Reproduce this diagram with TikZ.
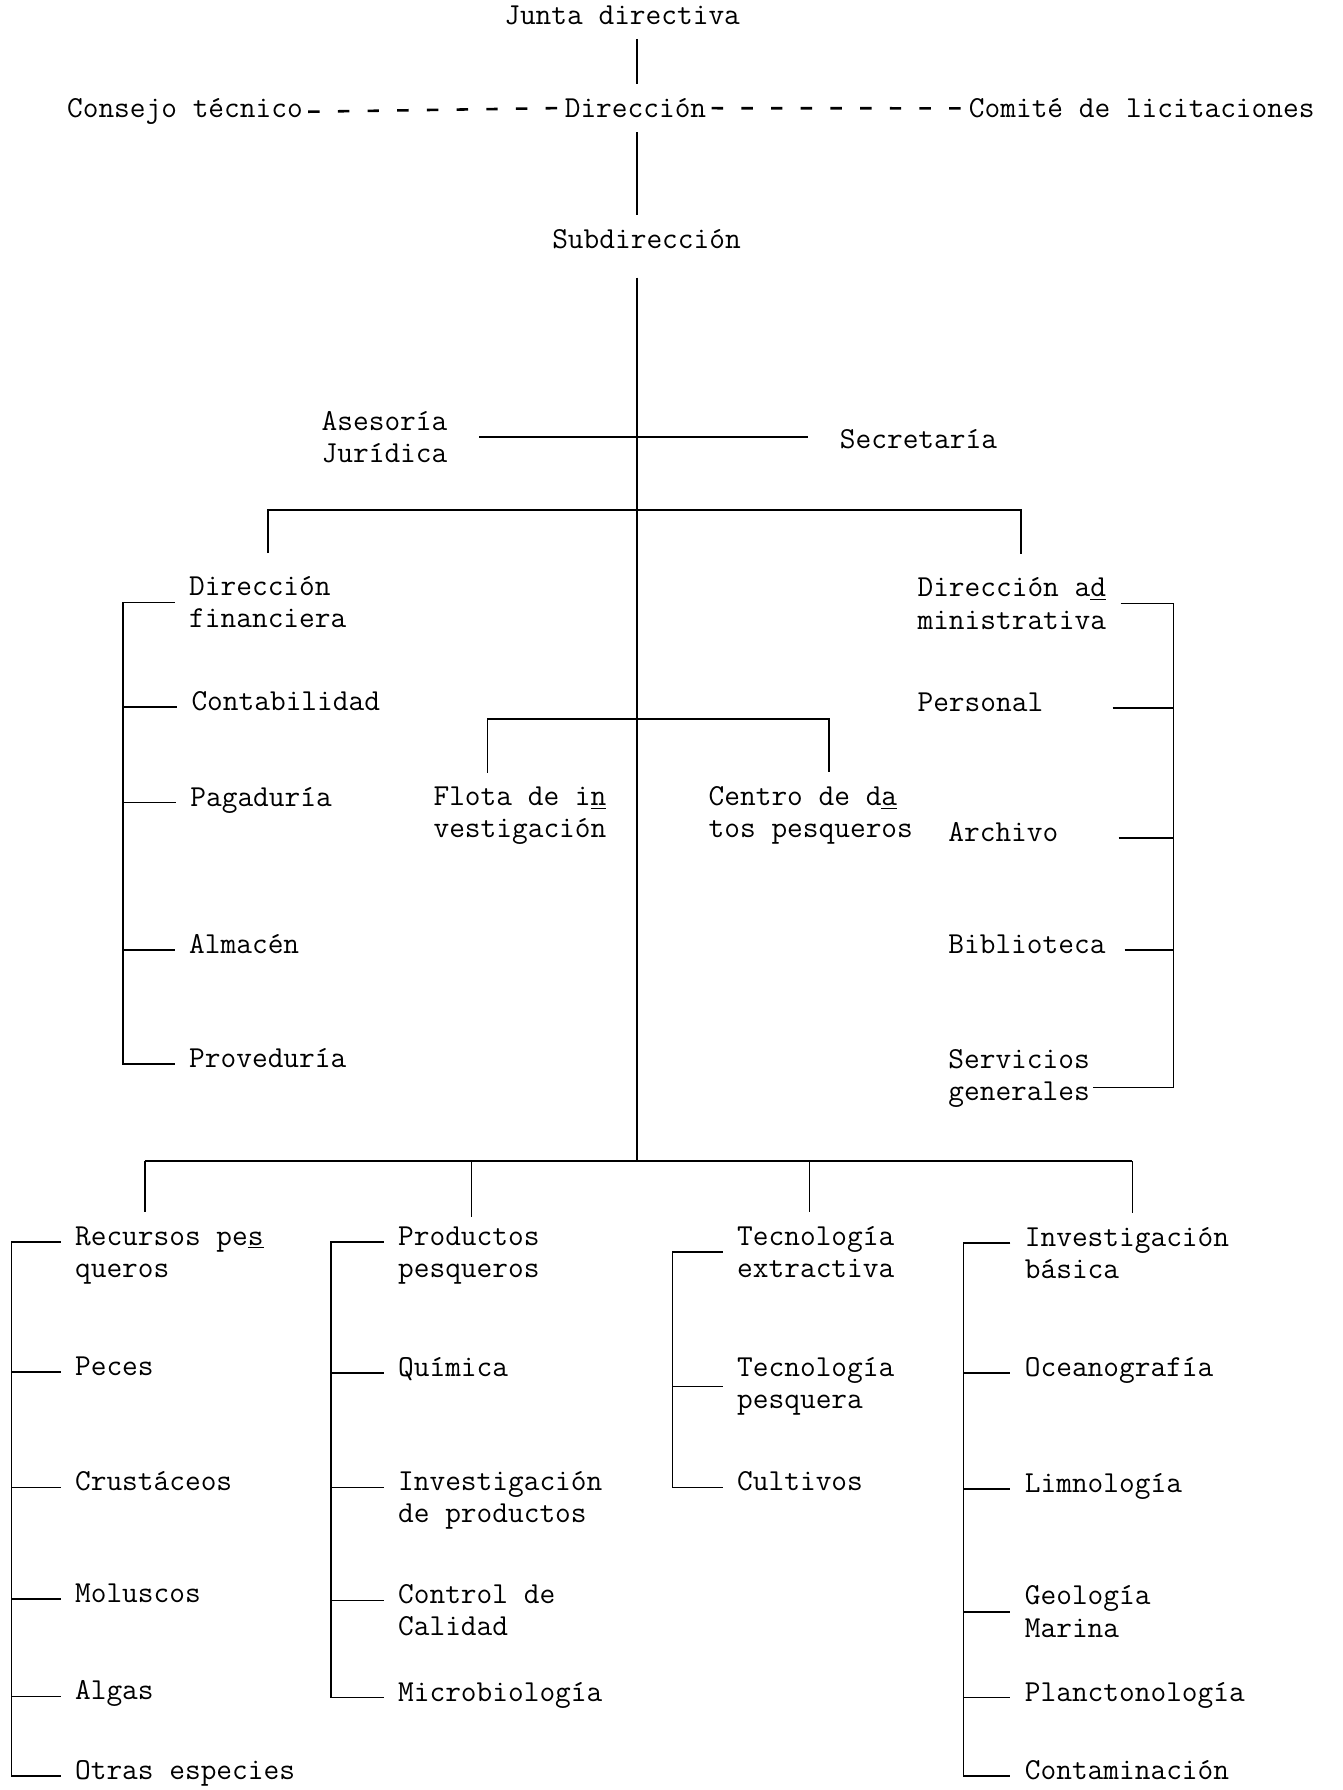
\documentclass[tikz,border=0pt]{standalone}
\usetikzlibrary{positioning}

\begin{document}
\begin{tikzpicture}[x = 0.025cm, y = -0.025cm, line width = 1.1pt,
    lbl/.style = {anchor = mid west, align = left, inner xsep = 0.3cm, inner ysep = 0.3cm,
                  font = \fontsize{19}{20}\selectfont\ttfamily},
    dashline/.style = {line width = 1.6pt, dash pattern = on 0.25cm off 0.4cm,
                       shorten < = -0.2cm, shorten > = -0.2cm}]

    \useasboundingbox (0, 0) rectangle (1176, 1568);

    % top of the chart
    \node[lbl] (jd) at (429, 18) {Junta directiva};
    \node[lbl] (cons) at (46, 100) {Consejo técnico};
    \node[lbl] (dir) at (482, 100) {Dirección};
    \node[lbl] (com) at (836, 100) {Comité de licitaciones};
    \node[lbl] (sub) at (471, 215) {Subdirección};

    \coordinate (bb) at (558, 1017);

    \draw (jd.south -| bb) -- (dir.north -| bb);
    \draw (dir.south -| bb) -- (sub.north -| bb);
    \draw[dashline] (cons.east) -- (dir.west);
    \draw[dashline] (dir.east) -- (com.west);
    \draw[shorten < = 0.3cm] (sub.south -| bb) -- (bb);


    % staff units
    \node[lbl] (ase) at (269, 402) {Asesoría\\Jurídica};
    \node[lbl] (sec) at (723, 390) {Secretaría};
    \draw[shorten < = 0.375cm, shorten > = 0.375cm] (ase.east) -- (ase.east -| sec.west);


    % the two directions
    \node[lbl] (fin) at (153, 547) {Dirección\\financiera};
    \node[lbl] (adm) at (791, 548) {Dirección a\underline{d}\\ministrativa};

    \coordinate (ub) at (558, 447);
    \draw[shorten < = 0.2cm, shorten > = 0.2cm] (fin.north) |- (ub) -| ([xshift = 0.2cm]adm.north);

    % left bracket
    \node[lbl] (cont) at (155, 619) {Contabilidad};
    \node[lbl] (pag) at (154, 703) {Pagaduría};
    \node[lbl] (alm) at (153, 832) {Almacén};
    \node[lbl] (prov) at (153, 932) {Proveduría};

    \coordinate (lb) at (108, 0);
    \draw (fin.west) -- (fin.west -| lb) -- (prov.mid west -| lb) -- (prov.mid west);
    \foreach \n in {cont, pag, alm}
        \draw (\n.mid west -| lb) -- (\n.mid west);

    % right bracket
    \node[lbl] (pers) at (791, 620) {Personal};
    \node[lbl] (arch) at (818, 734) {Archivo};
    \node[lbl] (bib) at (818, 832) {Biblioteca};
    \node[lbl] (serv) at (818, 961) {Servicios\\generales};

    \coordinate (rb) at (1028, 0);
    \draw (adm.east) -- (adm.east -| rb)
        -- ([yshift = -0.2cm]serv.east -| rb) -- ([xshift = -0.25cm, yshift = -0.2cm]serv.east);
    \foreach \n/\s in {pers/1.2cm, arch/1.0cm, bib/0.1cm}
        \draw ([xshift = \s]\n.mid east) -- (\n.mid east -| rb);


    % middle units
    \node[lbl] (flota) at (367, 731) {Flota de i\underline{n}\\vestigación};
    \node[lbl] (centro) at (608, 731) {Centro de d\underline{a}\\tos pesqueros};

    \coordinate (m1) at (427, 630);
    \coordinate (m2) at (726, 630);
    \draw (m1 |- flota.north) -- (m1) -- (m2) -- (m2 |- centro.north);


    % bottom branches
    \coordinate (k1) at (127, 1017);
    \coordinate (k2) at (413, 1017);
    \coordinate (k3) at (709, 1017);
    \coordinate (k4) at (992, 1017);
    \draw (k1) -- (k4);

    % Recursos pesqueros
    \node[lbl] (rec) at (53, 1116) {Recursos pe\underline{s}\\queros};
    \node[lbl] (peces) at (53, 1202) {Peces};
    \node[lbl] (crus) at (53, 1303) {Crustáceos};
    \node[lbl] (mol) at (53, 1401) {Moluscos};
    \node[lbl] (algas) at (53, 1486) {Algas};
    \node[lbl] (otras) at (53, 1556) {Otras especies};

    \coordinate (b1) at (10, 0);
    \draw (k1) -- (k1 |- rec.north);
    \draw ([yshift = 0.7cm]rec.mid west) -- ([yshift = 0.7cm]rec.mid west -| b1)
        -- (otras.mid west -| b1) -- (otras.mid west);
    \foreach \n in {peces, crus, mol, algas}
        \draw (\n.mid west -| b1) -- (\n.mid west);

    % Productos pesqueros
    \node[lbl] (prod) at (336, 1116) {Productos\\pesqueros};
    \node[lbl] (quim) at (336, 1203) {Química};
    \node[lbl] (invp) at (336, 1331) {Investigación\\de productos};
    \node[lbl] (ctrl) at (336, 1430) {Control de\\Calidad};
    \node[lbl] (micro) at (336, 1487) {Microbiología};

    \coordinate (b2) at (290, 0);
    \draw (k2) -- ([yshift = -0.1cm]k2 |- prod.north);
    \draw ([yshift = 0.7cm]prod.mid west) -- ([yshift = 0.7cm]prod.mid west -| b2)
        -- (micro.mid west -| b2) -- (micro.mid west);
    \draw (quim.mid west -| b2) -- (quim.mid west);
    \foreach \n in {invp, ctrl}
        \draw ([yshift = 0.7cm]\n.mid west -| b2) -- ([yshift = 0.7cm]\n.mid west);

    % Tecnologia
    \node[lbl] (tecx) at (633, 1116) {Tecnología\\extractiva};
    \node[lbl] (tecp) at (633, 1231) {Tecnología\\pesquera};
    \node[lbl] (cult) at (633, 1303) {Cultivos};

    \coordinate (b3) at (589, 0);
    \draw (k3) -- (k3 |- tecx.north);
    \draw (tecx.west) -- (tecx.west -| b3) -- (cult.mid west -| b3) -- (cult.mid west);
    \draw (tecp.west -| b3) -- (tecp.west);

    % Investigacion basica
    \node[lbl] (invb) at (885, 1117) {Investigación\\básica};
    \node[lbl] (ocea) at (885, 1203) {Oceanografía};
    \node[lbl] (limn) at (885, 1304) {Limnología};
    \node[lbl] (geo) at (885, 1431) {Geología\\Marina};
    \node[lbl] (planc) at (885, 1487) {Planctonología};
    \node[lbl] (conta) at (885, 1556) {Contaminación};

    \coordinate (b4) at (844, 0);
    \draw (k4) -- (k4 |- invb.north);
    \draw ([yshift = 0.7cm]invb.mid west) -- ([yshift = 0.7cm]invb.mid west -| b4)
        -- (conta.mid west -| b4) -- (conta.mid west);
    \foreach \n in {ocea, limn, planc}
        \draw (\n.mid west -| b4) -- (\n.mid west);
    \draw (geo.west -| b4) -- (geo.west);

\end{tikzpicture}
\end{document}
